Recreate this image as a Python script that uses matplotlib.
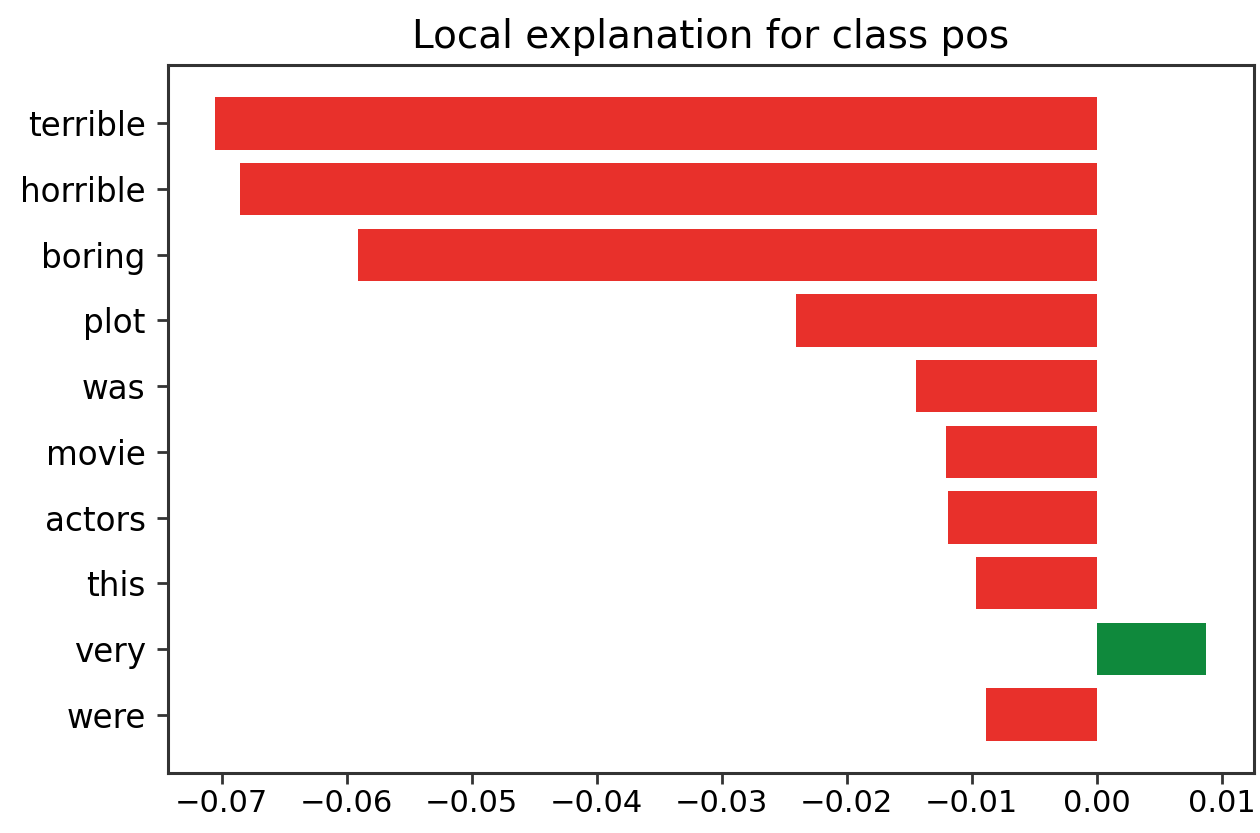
import matplotlib.pyplot as plt

# LIME-style local explanation
words = ['terrible', 'horrible', 'boring', 'plot', 'was',
         'movie', 'actors', 'this', 'very', 'were']
weights = [-0.0705, -0.0685, -0.0591, -0.0241, -0.0145,
           -0.0121, -0.0119, -0.0097, 0.0087, -0.0089]
ticks = [-0.07, -0.06, -0.05, -0.04, -0.03, -0.02, -0.01, 0.00, 0.01]

RED = '#e8302b'
GREEN = '#0f893c'

fig = plt.figure(figsize=(12.6, 8.33), dpi=100)
ax = fig.add_axes([0.1333, 0.072, 0.862, 0.85])

# bottom-to-top order like lime's as_pyplot_figure
vals = weights[::-1]
names = words[::-1]
pos = list(range(len(vals)))
colors = [GREEN if v > 0 else RED for v in vals]
ax.barh(pos, vals, height=0.8, color=colors)

ax.set_yticks(pos)
ax.set_yticklabels(names)
ax.set_xticks(ticks)
ax.set_xticklabels([f'{t:.2f}'.replace('-', '\u2212') for t in ticks])
ax.set_xlim(-0.0743, 0.01258)

ax.tick_params(length=8, width=2, color='#333333')
ax.tick_params(axis='x', labelsize=22)
ax.tick_params(axis='y', labelsize=23.5, pad=8)
for s in ax.spines.values():
    s.set_linewidth(2.2)
    s.set_color('#333333')

ax.set_title('Local explanation for class pos', fontsize=28, pad=12)

fig.savefig('out.png', dpi=100)
